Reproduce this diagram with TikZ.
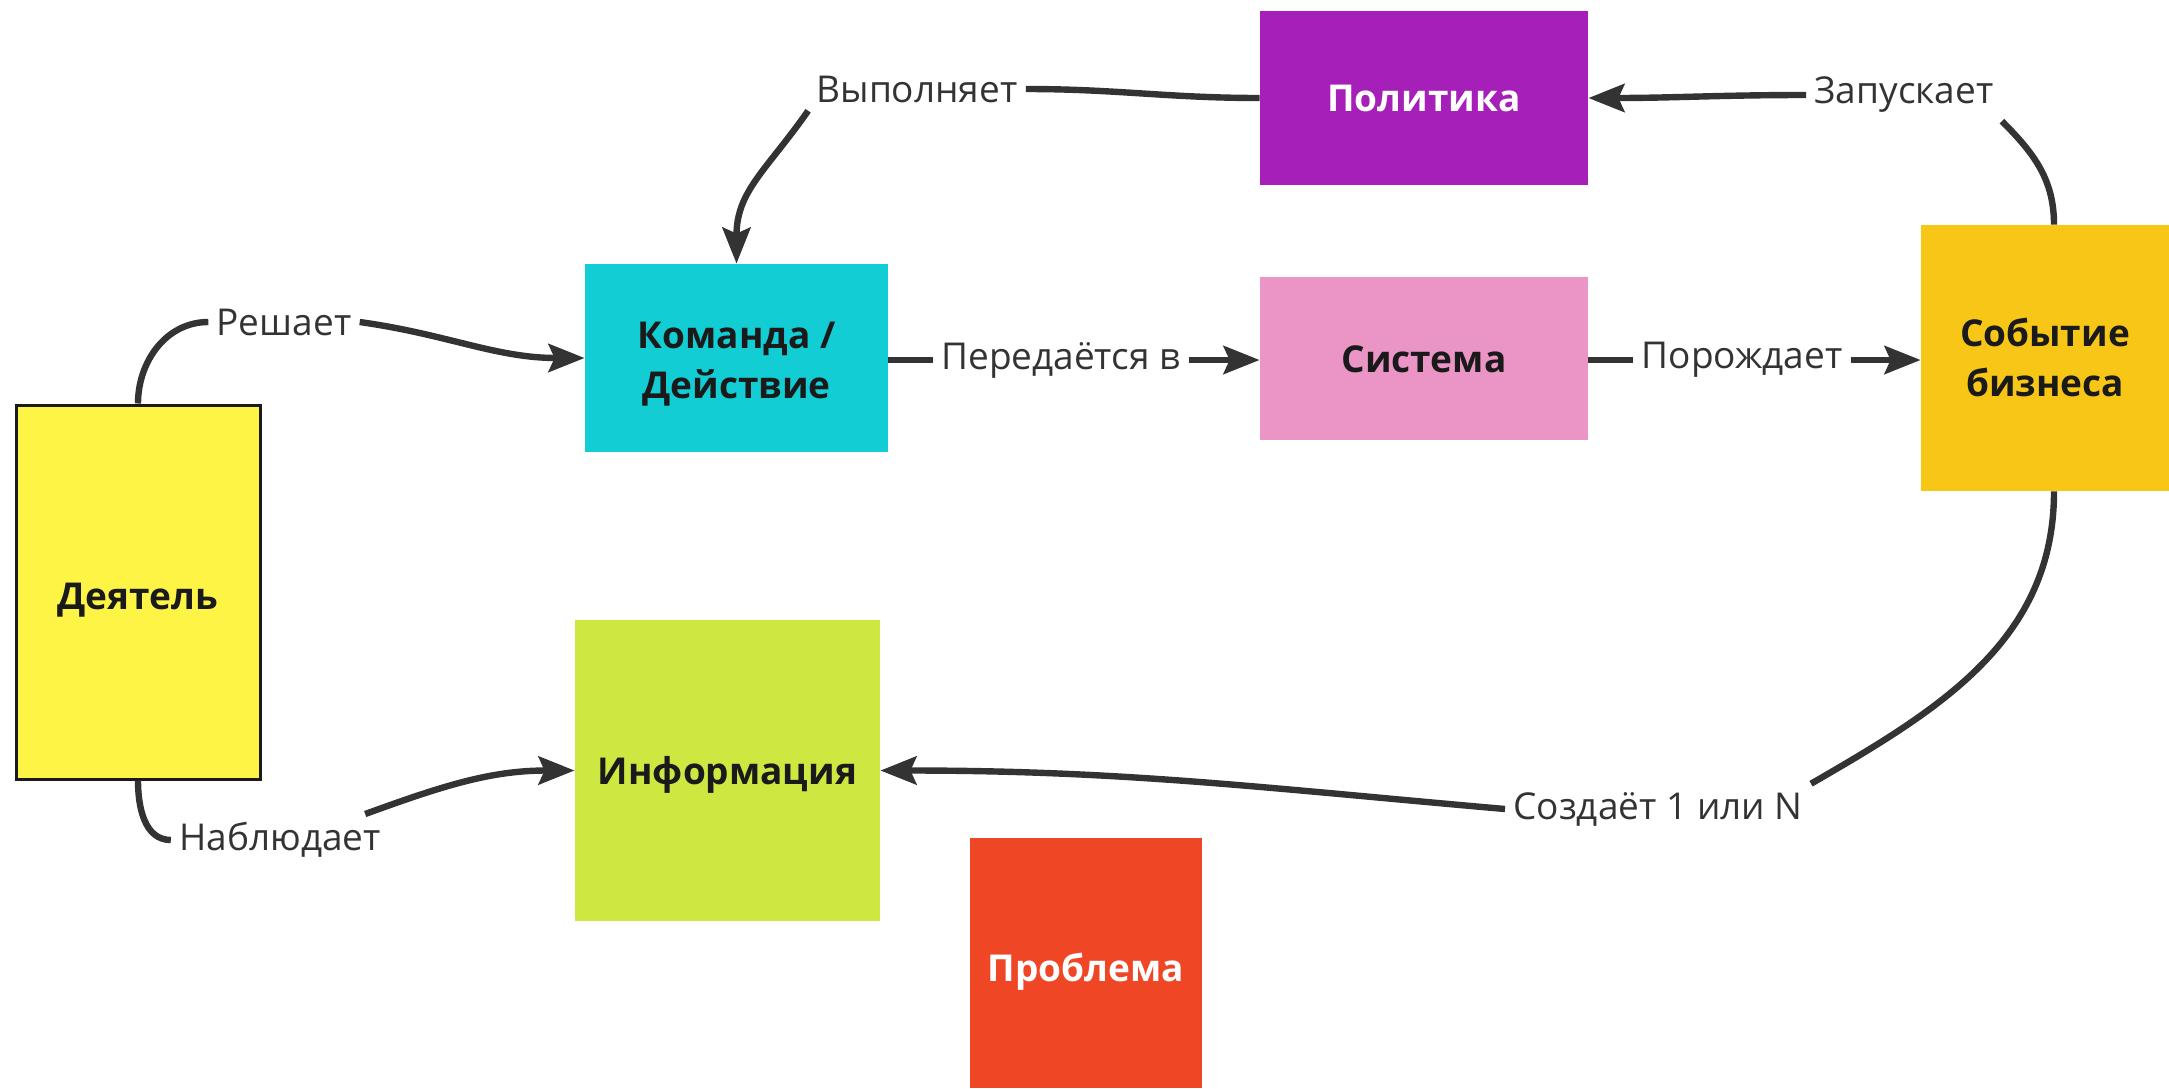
\documentclass[tikz,border=0pt]{standalone}
\usepackage{fontspec}
\setmainfont{Open Sans}
\usetikzlibrary{arrows.meta}
\definecolor{ln}{HTML}{333333}
\definecolor{tx}{HTML}{1A1A1A}
\definecolor{cyel}{HTML}{FEF445}
\definecolor{ccyan}{HTML}{12CDD4}
\definecolor{cpurp}{HTML}{A61FB9}
\definecolor{cpink}{HTML}{EB95C6}
\definecolor{cgold}{HTML}{F8C617}
\definecolor{clime}{HTML}{CEE741}
\definecolor{cred}{HTML}{EF4726}
\newcommand\lowtxt[2]{\raisebox{-#1}[\height][\depth]{\begin{tabular}{@{}c@{}}#2\end{tabular}}}
\tikzset{
  box/.style={rectangle, inner sep=0pt, align=center, text=tx,
    font=\fontsize{18.5}{25}\selectfont\bfseries},
  lbl/.style={inner sep=4pt, text=ln, font=\fontsize{18.5}{22}\selectfont},
  conn/.style={draw=ln, line width=3.2pt},
  arr/.style={conn, -{Stealth[length=18pt,width=14pt,inset=3pt]}}
}
\begin{document}
\begin{tikzpicture}[x=0.5pt,y=-0.5pt]
\useasboundingbox (0,0) rectangle (2169,1088);
% nodes
\node[box, fill=cyel, draw=tx, line width=1.5pt, minimum width=122pt, minimum height=187pt] (deyatel) at (138,592) {\lowtxt{3.5pt}{Деятель}};
\node[box, fill=ccyan, minimum width=151.5pt, minimum height=94pt] (komanda) at (736.5,358) {\lowtxt{2.5pt}{Команда /\\Действие}};
\node[box, fill=cpurp, text=white, minimum width=164pt, minimum height=87pt] (politika) at (1424,98) {\lowtxt{1.5pt}{Политика}};
\node[box, fill=cpink, minimum width=164pt, minimum height=81.5pt] (sistema) at (1424,358.5) {\lowtxt{2pt}{Система}};
\node[box, fill=cgold, minimum width=124pt, minimum height=133pt] (sobytie) at (2045,358) {\lowtxt{1.5pt}{Событие\\бизнеса}};
\node[box, fill=clime, minimum width=152.5pt, minimum height=150.5pt] (info) at (727.5,770.5) {\lowtxt{2pt}{Информация}};
\node[box, fill=cred, text=white, minimum width=116pt, minimum height=125pt] (problema) at (1086,963) {\lowtxt{4pt}{Проблема}};
% labels
\node[lbl] (reshaet) at (284,322) {Решает};
\node[lbl] (nabl) at (280,840) {Наблюдает};
\node[lbl] (vypoln) at (917,89) {Выполняет};
\node[lbl] (zapusk) at (1904,95) {Запускает};
\node[lbl] (pered) at (1061,360) {Передаётся в};
\node[lbl] (porozh) at (1742,360) {Порождает};
\node[lbl] (sozd) at (1658,809) {Создаёт 1 или N};
% connectors
\draw[conn] (deyatel.north) to[out=90,in=180] (reshaet.west);
\draw[arr] (reshaet.east) to[out=-8,in=180] (komanda.west);
\draw[conn] (deyatel.south) to[out=-90,in=180] (nabl.west);
\draw[arr] ([xshift=-12pt]nabl.north east) to[out=20,in=180] (info.west);
\draw[conn] (politika.west) to[out=180,in=0] (vypoln.east);
\draw[arr] (vypoln.south west) to[out=-125,in=90,looseness=1.1] (komanda.north);
\draw[conn] ([xshift=4.5pt]sobytie.north) to[out=90,in=-45] (zapusk.south east);
\draw[arr] (zapusk.west) to[out=180,in=0] (politika.east);
\draw[conn] (pered.west -| komanda.east) -- (pered.west);
\draw[arr] (pered.east) -- (pered.east -| sistema.west);
\draw[conn] (porozh.west -| sistema.east) -- (porozh.west);
\draw[arr] (porozh.east) -- (porozh.east -| sobytie.west);
\draw[conn] ([xshift=4.5pt]sobytie.south) to[out=-90,in=30] (sozd.north east);
\draw[arr] (sozd.west) to[out=175,in=0] (info.east);
\end{tikzpicture}
\end{document}
